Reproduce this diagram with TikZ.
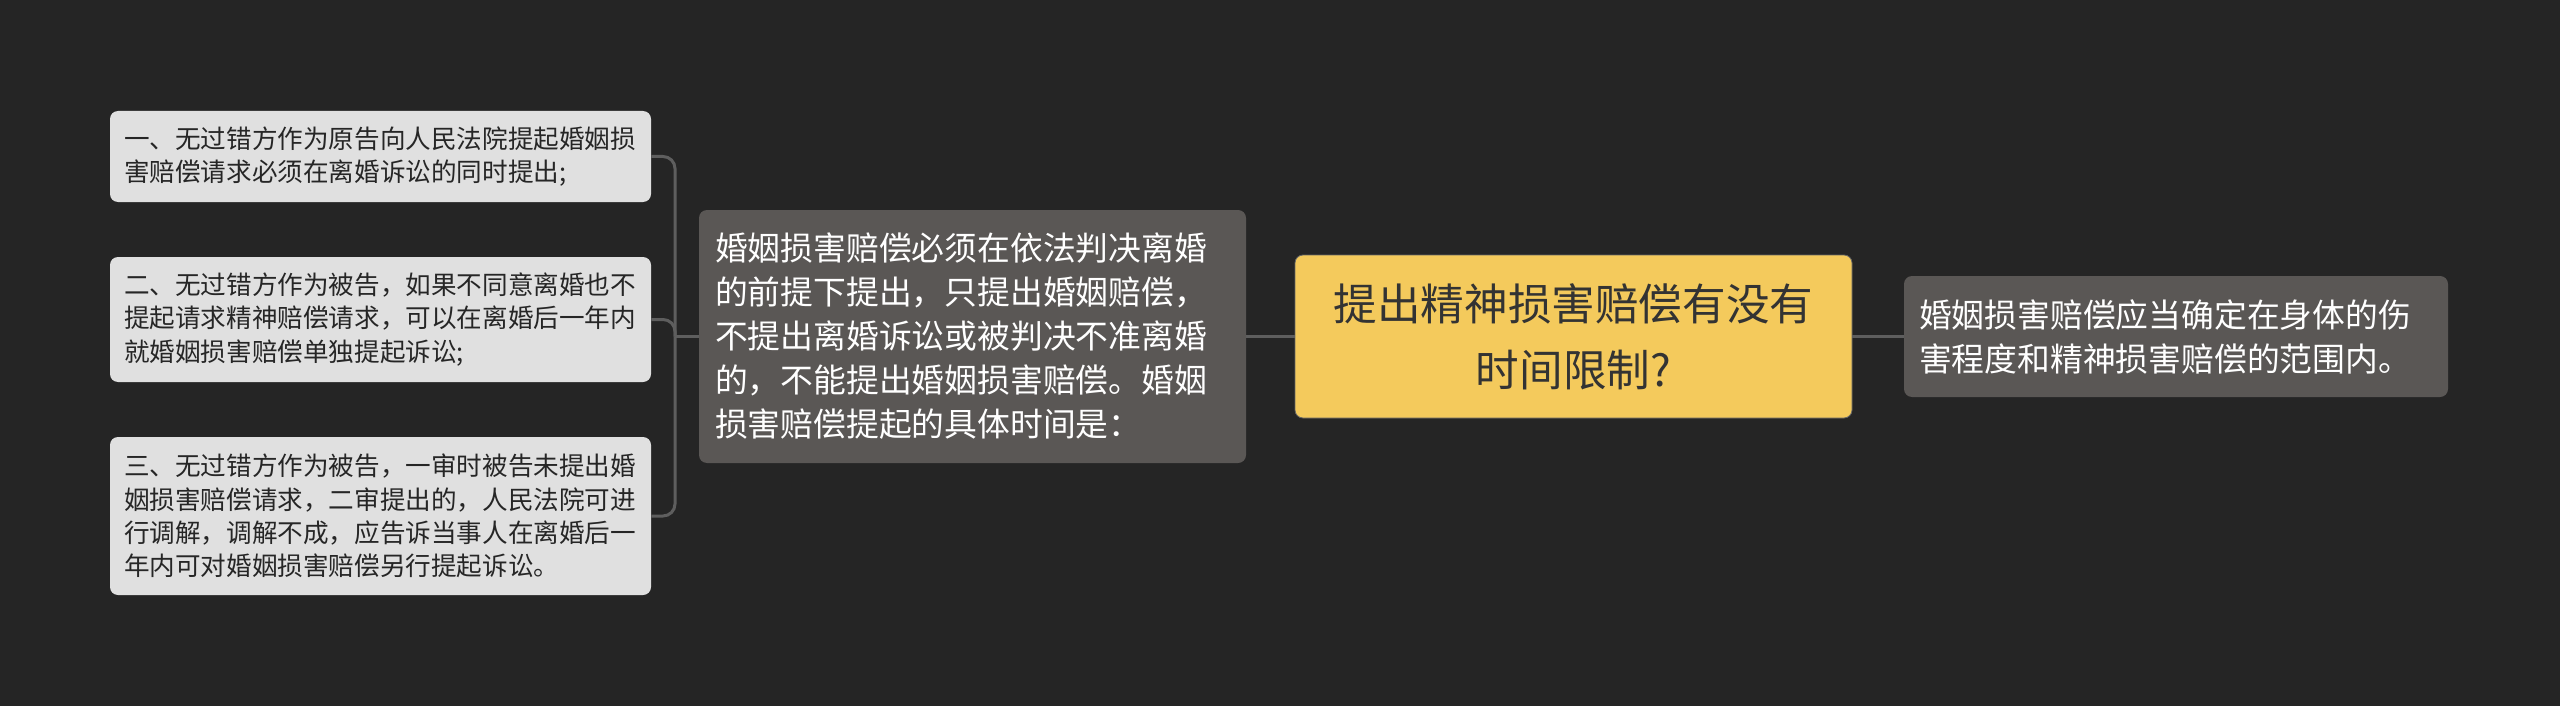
\documentclass[tikz,border=0pt]{standalone}
\usepackage{fontspec}
\setmainfont{Noto Sans CJK SC}
\usepackage{xcolor}
\definecolor{bgdark}{HTML}{252525}
\definecolor{leafgray}{HTML}{E0E0E0}
\definecolor{boxgray}{HTML}{5A5755}
\definecolor{rootyellow}{HTML}{F4CA5C}
\definecolor{linegray}{HTML}{5E5E5E}

\tikzset{
    leafbox/.style={fill=leafgray, rounded corners=4pt, text=black!85, align=left,
        inner xsep=7pt, inner ysep=0pt, text width=256.5pt, font=\fontsize{12.8pt}{16.6pt}\selectfont},
    greybox/.style={fill=boxgray, rounded corners=4pt, text=white, align=left,
        inner xsep=8pt, inner ysep=0pt, font=\fontsize{16.4pt}{22pt}\selectfont},
    rootbox/.style={fill=rootyellow, draw=black!60, line width=0.4pt, rounded corners=4pt,
        text=black!80, align=center, inner sep=0pt, minimum width=278.5pt, minimum height=81.5pt,
        font=\fontsize{21.8pt}{33pt}\selectfont},
    link/.style={draw=linegray, line width=1.5pt, rounded corners=6pt}
}

\begin{document}
\begin{tikzpicture}[x=0.5pt, y=-0.5pt]
    \fill[bgdark] (0,0) rectangle (2560,706);

    \node[rootbox] (root) at (1573.5,336.5) {提出精神损害赔偿有没有\\时间限制?};
    \node[greybox, text width=257.5pt, minimum height=126.5pt] (mid) at (972.5,336.5)
        {婚姻损害赔偿必须在依法判决离婚\\的前提下提出，只提出婚姻赔偿，\\不提出离婚诉讼或被判决不准离婚\\的，不能提出婚姻损害赔偿。婚姻\\损害赔偿提起的具体时间是：};
    \node[greybox, inner xsep=7.5pt, text width=257pt, minimum height=60.5pt] (scope) at (2176,336.5)
        {婚姻损害赔偿应当确定在身体的伤\\害程度和精神损害赔偿的范围内。};

    \node[leafbox, minimum height=45.5pt] (first) at (380.5,156.5)
        {一、无过错方作为原告向人民法院提起婚姻损\\害赔偿请求必须在离婚诉讼的同时提出;};
    \node[leafbox, minimum height=62.5pt] (second) at (380.5,319.5)
        {二、无过错方作为被告，如果不同意离婚也不\\提起请求精神赔偿请求，可以在离婚后一年内\\就婚姻损害赔偿单独提起诉讼;};
    \node[leafbox, minimum height=79pt] (third) at (380.5,516)
        {三、无过错方作为被告，一审时被告未提出婚\\姻损害赔偿请求，二审提出的，人民法院可进\\行调解，调解不成，应告诉当事人在离婚后一\\年内可对婚姻损害赔偿另行提起诉讼。};

    \coordinate (fork) at (675,336.5);
    \draw[link] (mid.west) -- (fork);
    \draw[link] (fork) |- (first.east);
    \draw[link] (fork) |- (second.east);
    \draw[link] (fork) |- (third.east);
    \draw[link] (mid.east) -- (root.west);
    \draw[link] (root.east) -- (scope.west);
\end{tikzpicture}
\end{document}
